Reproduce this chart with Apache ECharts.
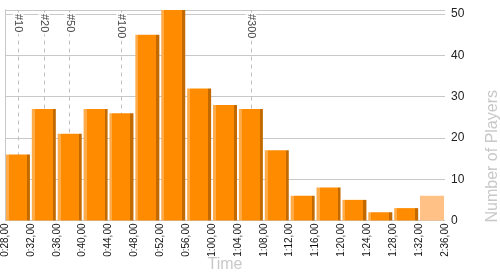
<!DOCTYPE html>
<html>
<head>
<meta charset="utf-8">
<script src="https://cdn.jsdelivr.net/npm/echarts@6/dist/echarts.min.js"></script>
<style>
html,body{margin:0;padding:0;background:#fff;}
#chart{width:500px;height:275px;}
</style>
</head>
<body>
<div id="chart"></div>
<script>
// Bin boundary tick labels (18 boundaries for 17 bins)
var tickLabels = ['0:28,00','0:32,00','0:36,00','0:40,00','0:44,00','0:48,00','0:52,00','0:56,00',
  '1:00,00','1:04,00','1:08,00','1:12,00','1:16,00','1:20,00','1:24,00','1:28,00','1:32,00','2:36,00'];
// Bins (named by their start)
var bins = tickLabels.slice(0, tickLabels.length - 1);
// Number of players per bin
var counts = [16, 27, 21, 27, 26, 45, 51, 32, 28, 27, 17, 6, 8, 5, 2, 3, 6];
// Rank markers and the bin each one falls in
var markerLabels = ['#10', '#20', '#50', '#100', '#300'];
var markerBins = ['0:28,00', '0:32,00', '0:36,00', '0:44,00', '1:04,00'];

var yMax = Math.max.apply(null, counts);
var mainFill = new echarts.graphic.LinearGradient(0, 0, 1, 0, [
  {offset: 0, color: '#FFAB48'}, {offset: 0.125, color: '#FFAB48'},
  {offset: 0.125, color: '#FF8C00'}, {offset: 0.875, color: '#FF8C00'},
  {offset: 0.875, color: '#C26A00'}, {offset: 1, color: '#C26A00'}
]);
var barData = counts.map(function (v, i) {
  var last = i === counts.length - 1;
  return {value: v, itemStyle: {color: last ? '#FFC185' : mainFill}};
});
var markerData = markerBins.map(function (b, i) {
  return {name: markerLabels[i], value: [b, yMax]};
});

var chart = echarts.init(document.getElementById('chart'), null, {renderer: 'canvas'});
chart.setOption({
  animation: false,
  backgroundColor: '#fff',
  textStyle: {fontFamily: 'Arial, "Liberation Sans", sans-serif'},
  grid: {left: 5, right: 55, top: 10, bottom: 54.5, containLabel: false, outerBoundsMode: 'none'},
  xAxis: [{
    type: 'category', data: bins, show: false, boundaryGap: true
  }, {
    type: 'value', min: 0, max: bins.length, interval: 1, position: 'bottom',
    axisLine: {show: false}, axisTick: {show: false}, splitLine: {show: false},
    axisLabel: {rotate: 90, margin: 3, fontSize: 10, color: '#111',
      formatter: function (v) { return tickLabels[v]; }},
    name: 'Time', nameLocation: 'middle', nameGap: 36, nameMoveOverlap: false,
    nameTextStyle: {color: '#c8c8c8', fontSize: 16}
  }],
  yAxis: [{
    type: 'value', position: 'right', min: 0, max: yMax, interval: 10,
    axisLine: {show: true, lineStyle: {color: '#c8c8c8'}},
    axisTick: {show: false},
    splitLine: {show: true, lineStyle: {color: '#c8c8c8', width: 1}},
    axisLabel: {showMaxLabel: false, margin: 6, fontSize: 12, color: '#222'},
    name: 'Number of Players', nameLocation: 'middle', nameRotate: 90, nameGap: 40,
    nameMoveOverlap: false,
    nameTextStyle: {color: '#c8c8c8', fontSize: 16, padding: [0, 82, 0, 0]}
  }, {
    type: 'value', position: 'left', min: 0, max: yMax,
    axisLine: {show: true, lineStyle: {color: '#c8c8c8'}},
    axisTick: {show: false}, axisLabel: {show: false}, splitLine: {show: false}
  }],
  series: [{
    type: 'bar', xAxisIndex: 0, yAxisIndex: 0, data: barData,
    barWidth: 24, z: 3
  }, {
    type: 'scatter', xAxisIndex: 0, yAxisIndex: 0, data: markerData,
    symbolSize: 0, z: 2, silent: true,
    label: {show: true, formatter: '{b}', position: 'inside', rotate: -90,
      align: 'left', verticalAlign: 'middle', offset: [4, 0],
      fontSize: 11, color: '#111', backgroundColor: '#fff', padding: [0, 2, 0, 0]},
    markLine: {
      z: 1, silent: true, symbol: ['none', 'none'],
      label: {show: false},
      lineStyle: {color: '#c0c0c0', type: [4, 4], width: 1},
      data: markerBins.map(function (b) { return {xAxis: b}; })
    }
  }]
});
</script>
</body>
</html>
